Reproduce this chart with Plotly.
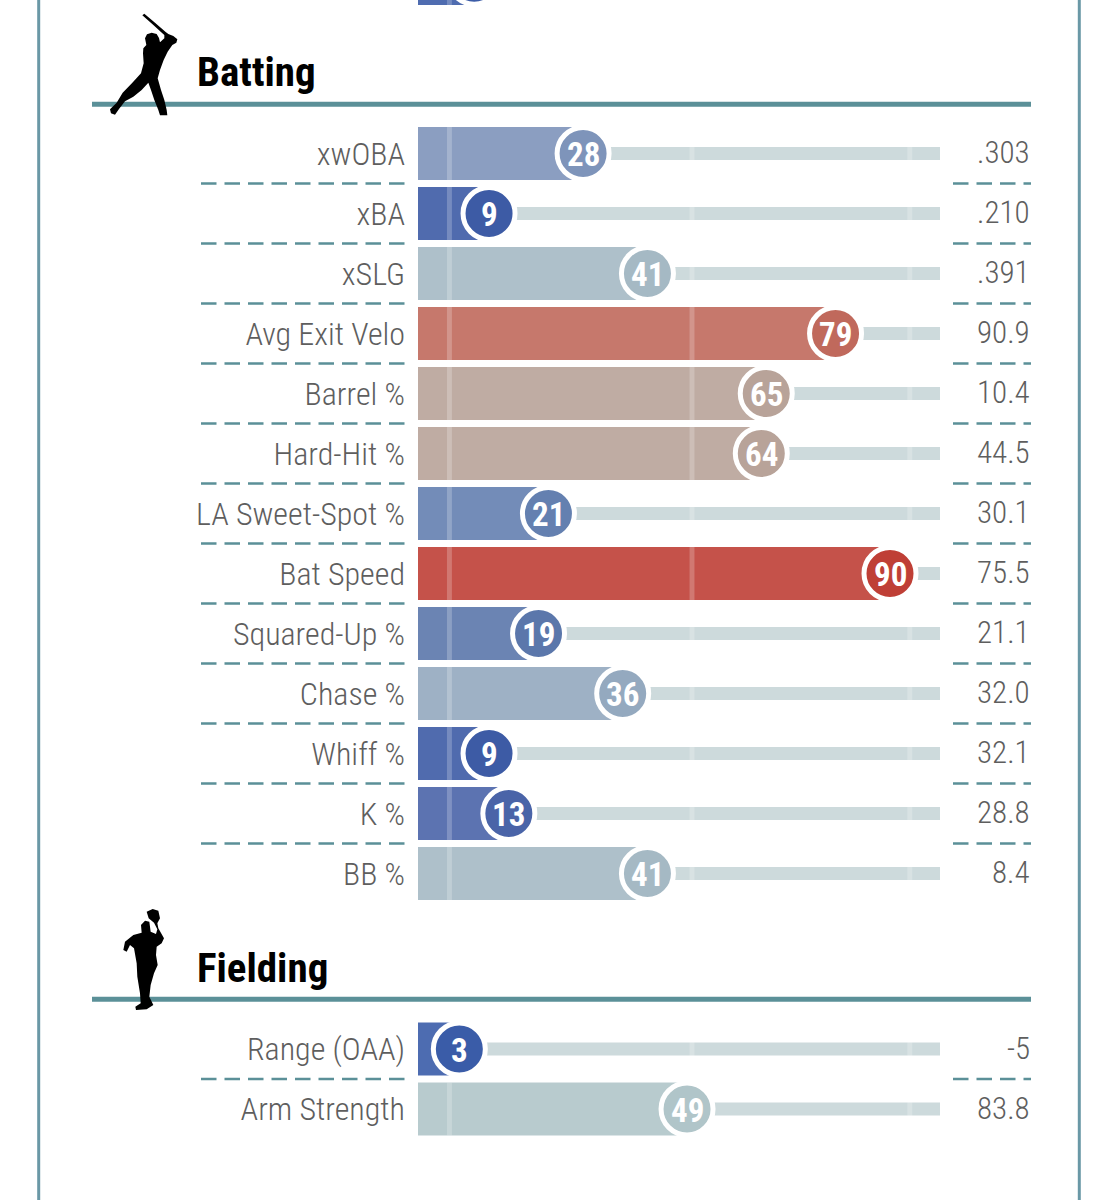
import plotly.graph_objects as go

# percentile rows
batting_labels = ["xwOBA", "xBA", "xSLG", "Avg Exit Velo", "Barrel %", "Hard-Hit %", "LA Sweet-Spot %",
                  "Bat Speed", "Squared-Up %", "Chase %", "Whiff %", "K %", "BB %"]
batting_pct = [28, 9, 41, 79, 65, 64, 21, 90, 19, 36, 9, 13, 41]
batting_vals = [".303", ".210", ".391", "90.9", "10.4", "44.5", "30.1", "75.5", "21.1", "32.0", "32.1", "28.8", "8.4"]

fielding_labels = ["Range (OAA)", "Arm Strength"]
fielding_pct = [3, 49]
fielding_vals = ["-5", "83.8"]

# the row above, only its bottom edge shows at the top of the crop
cut_label = [" "]
cut_pct = [6]

guides = [1, 50, 94]

W, H = 1118, 1200
BAR_START = -5.35
BAR_END = 100.1

# percentile -> colour, read from the circles
scale_stops = [(0, "#38599f"), (3, "#3a5ca8"), (9, "#3d5ba5"), (13, "#4a64a8"), (19, "#5b77ab"), (21, "#6480b0"),
               (28, "#7e94ba"), (36, "#94a9bf"), (41, "#a5b9c4"), (49, "#b0c5c9"), (64, "#b8a399"), (65, "#b8a399"),
               (79, "#c0695c"), (90, "#bf3f36"), (100, "#b8302a")]
colorscale = [[p / 100, c] for p, c in scale_stops]

TEAL = "#5b9098"
FRAME = "#6a98a6"
GREY = "#5e5e5e"
NARROW = "Roboto Condensed, Roboto"


def px_path(points, ox, oy):
    # zoomed silhouette outline (3x crop) to a paper path
    parts = []
    for i, (zx, zy) in enumerate(points):
        x = (ox + zx / 3) / W
        y = 1 - (oy + zy / 3) / H
        parts.append(("M" if i == 0 else "L") + f"{x:.5f},{y:.5f}")
    return " ".join(parts) + " Z"


batter = [(112, 16), (118, 11), (150, 38), (182, 66), (190, 72), (205, 78), (217, 88), (214, 98), (202, 105),
          (188, 125), (176, 150), (165, 180), (158, 205), (168, 240), (178, 270), (185, 300), (187, 316), (165, 316),
          (160, 300), (148, 270), (138, 240), (130, 218), (110, 240), (85, 260), (60, 274), (42, 297), (30, 314),
          (18, 310), (15, 298), (35, 278), (53, 248), (82, 218), (108, 190), (116, 160), (114, 130), (115, 115),
          (124, 105), (120, 85), (126, 73), (140, 68), (155, 72), (162, 84), (165, 97), (178, 85), (178, 75),
          (172, 70), (145, 45)]
fielder = [(350, 65), (368, 57), (385, 62), (390, 85), (382, 100), (385, 115), (402, 145), (395, 160), (380, 170),
           (378, 195), (383, 225), (372, 250), (362, 285), (358, 320), (370, 345), (350, 358), (318, 360), (316, 350),
           (332, 340), (330, 310), (322, 260), (320, 220), (312, 175), (300, 165), (290, 185), (280, 180), (285, 155),
           (310, 135), (335, 128), (333, 105), (345, 92), (358, 95), (362, 125), (378, 132), (382, 118), (372, 98),
           (356, 85)]

fig = go.Figure()


def add_rows(labels, pct, vals, yaxis, show_track=True):
    fig.add_trace(go.Bar(y=labels, x=[p - BAR_START for p in pct], base=BAR_START, orientation="h", width=0.883,
                         marker=dict(color=pct, colorscale=colorscale, cmin=0, cmax=100, opacity=0.9, line_width=0),
                         yaxis=yaxis, showlegend=False))
    if show_track:
        fig.add_trace(go.Bar(y=labels, x=[BAR_END - p for p in pct], base=pct, orientation="h", width=0.217,
                             marker=dict(color="#cddadc", line_width=0), yaxis=yaxis, showlegend=False))
    for g in guides:
        fig.add_trace(go.Bar(y=labels, x=[1.0] * len(labels), base=g - 0.5, orientation="h", width=0.883,
                             marker=dict(color="rgba(255,255,255,0.22)", line_width=0), yaxis=yaxis, showlegend=False))
    fig.add_trace(go.Scatter(y=labels, x=pct, mode="markers",
                             marker=dict(size=52, color=pct, colorscale=colorscale, cmin=0, cmax=100,
                                         line=dict(color="white", width=5)),
                             yaxis=yaxis, showlegend=False))
    if vals:
        for lab, p, v in zip(labels, pct, vals):
            fig.add_annotation(x=p, xref="x", y=lab, yref=yaxis, text=str(p), showarrow=False, yshift=-1,
                               font=dict(family=NARROW, size=33, color="white", weight="bold"))
            fig.add_annotation(x=1032 / W, xref="paper", y=lab, yref=yaxis, text=v, showarrow=False, xanchor="right",
                               yshift=1, font=dict(family=NARROW, size=31, color=GREY, weight=300))


add_rows(cut_label, cut_pct, None, "y3", show_track=False)
add_rows(batting_labels, batting_pct, batting_vals, "y")
add_rows(fielding_labels, fielding_pct, fielding_vals, "y2")

shapes = []
shapes.append(dict(type="line", xref="paper", yref="paper", x0=38.7 / W, x1=38.7 / W, y0=0, y1=1,
                   line=dict(color=FRAME, width=3)))
shapes.append(dict(type="line", xref="paper", yref="paper", x0=1079.3 / W, x1=1079.3 / W, y0=0, y1=1,
                   line=dict(color=FRAME, width=3)))
for rule_y in (104.2, 999.2):
    shapes.append(dict(type="line", xref="paper", yref="paper", x0=92 / W, x1=1031 / W, y0=1 - rule_y / H,
                       y1=1 - rule_y / H, line=dict(color=TEAL, width=5)))


def add_dashes(count, yref):
    for i in range(count):
        for x0, x1 in ((201, 405), (953, 1031)):
            shapes.append(dict(type="line", xref="paper", yref=yref, x0=x0 / W, x1=x1 / W, y0=i + 0.5, y1=i + 0.5,
                               line=dict(color=TEAL, width=2.5, dash="15.5px,8px")))


add_dashes(len(batting_labels) - 1, "y")
add_dashes(len(fielding_labels) - 1, "y2")

for outline, ox, oy in ((batter, 105, 10), (fielder, 30, 890)):
    shapes.append(dict(type="path", xref="paper", yref="paper", path=px_path(outline, ox, oy),
                       fillcolor="black", line=dict(width=0), layer="above"))

fig.add_annotation(x=195 / W, y=1 - 72 / H, xref="paper", yref="paper", text="Batting", showarrow=False,
                   xanchor="left", yanchor="middle", font=dict(family=NARROW, size=41, color="black", weight="bold"))
fig.add_annotation(x=195 / W, y=1 - 968 / H, xref="paper", yref="paper", text="Fielding", showarrow=False,
                   xanchor="left", yanchor="middle", font=dict(family=NARROW, size=41, color="black", weight="bold"))


def row_axis(labels, top, bottom):
    return dict(domain=[1 - bottom / H, 1 - top / H], anchor="x", type="category", categoryorder="array",
                categoryarray=labels, range=[len(labels) - 0.5, -0.5], showgrid=False, zeroline=False, showline=False,
                ticks="", ticklabelstandoff=12, tickfont=dict(family=NARROW, size=32, color=GREY, weight=300))


fig.update_layout(
    width=W, height=H, margin=dict(l=0, r=0, t=0, b=0),
    paper_bgcolor="white", plot_bgcolor="rgba(0,0,0,0)", barmode="overlay",
    xaxis=dict(domain=[418 / W, 940 / W], range=[BAR_START, BAR_END], visible=False, anchor="y"),
    yaxis=row_axis(batting_labels, 123.5, 903.5),
    yaxis2=row_axis(fielding_labels, 1019, 1139),
    yaxis3=dict(domain=[1 - 5 / H, 1], anchor="x", type="category", range=[0.44, 0.358], showgrid=False,
                zeroline=False, showticklabels=False, ticks=""),
    shapes=shapes,
)

# the browser's default body margin would push the page 8px off
fig.write_html("out.html", config=dict(displayModeBar=False), post_script="document.body.style.margin='0';")
